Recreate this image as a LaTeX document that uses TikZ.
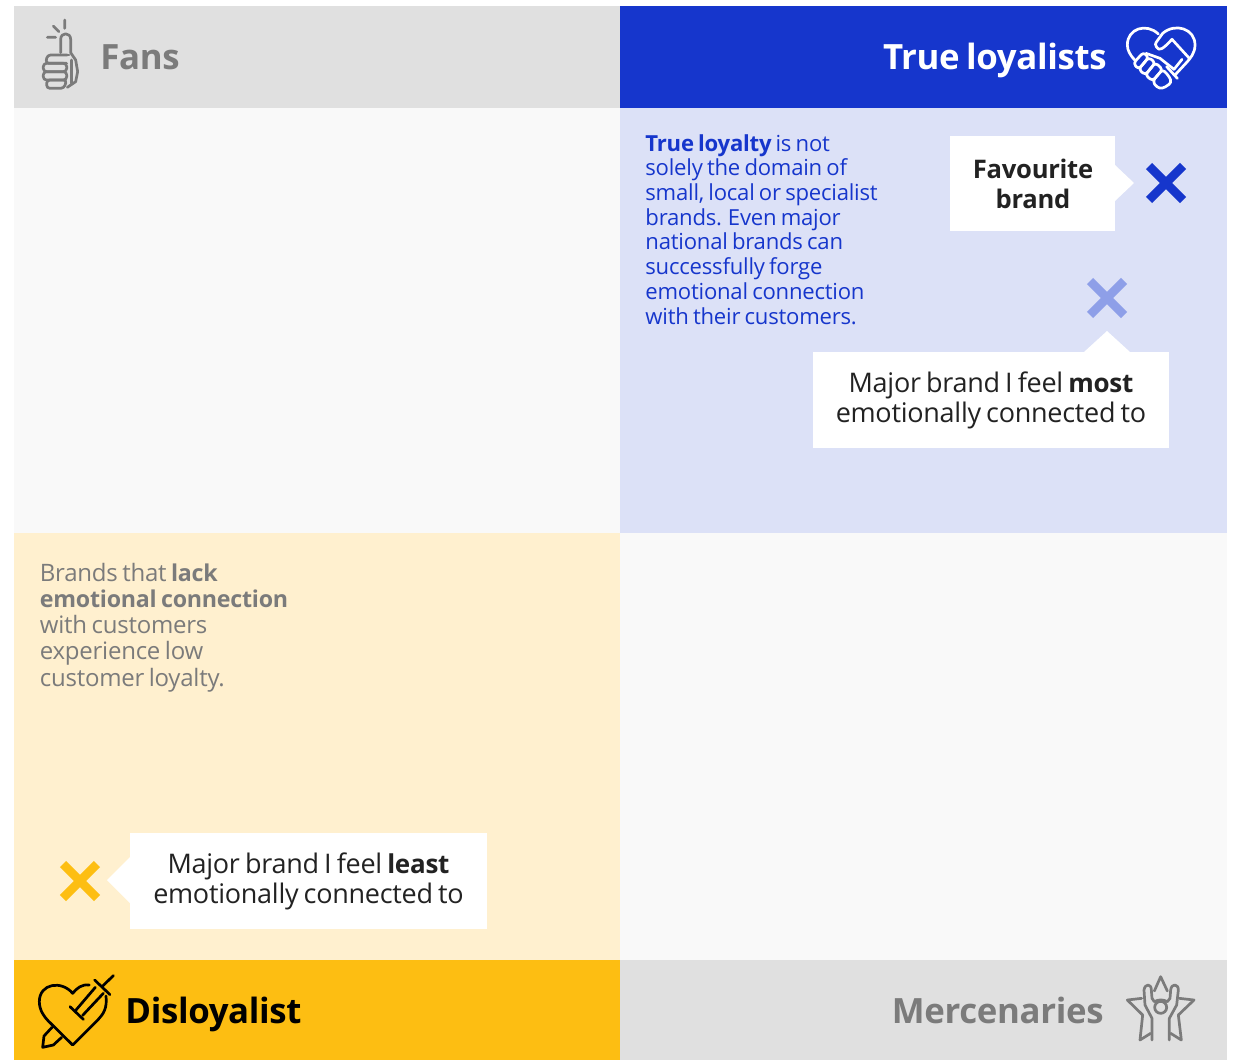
\documentclass[tikz,border=0pt]{standalone}
\usepackage{fontspec}
\setmainfont[LetterSpace=-1,WordSpace=0.75]{Open Sans}
\definecolor{bluemain}{HTML}{1636CC}
\definecolor{bluelight}{HTML}{DCE1F7}
\definecolor{bluemid}{HTML}{8E9FE8}
\definecolor{cream}{HTML}{FFF0CF}
\definecolor{yellowmain}{HTML}{FDBE12}
\definecolor{headgrey}{HTML}{E0E0E0}
\definecolor{offwhite}{HTML}{F9F9F9}
\definecolor{greytext}{HTML}{7B7B7B}
\definecolor{darktext}{HTML}{222222}
\tikzset{
  headtext/.style={font=\fontsize{17.4}{20}\selectfont\bfseries,inner sep=0pt},
  bodytext/.style={align=left,anchor=north west,inner sep=0pt},
  calltext/.style={align=center,inner sep=0pt,text=darktext},
  xmark/.style={line width=4.4pt,line cap=butt},
  icon/.style={line width=1.35pt,line cap=round,line join=round,fill=none},
  finger/.style={icon,rounded corners=1.6pt}
}
\newcommand{\smallbold}[1]{{\fontsize{11.6}{13.05}\selectfont\bfseries #1}}
\newcommand{\callbold}[1]{{\fontsize{13}{15}\selectfont\bfseries #1}}
\begin{document}
\begin{tikzpicture}[x=0.5pt,y=-0.5pt]
\useasboundingbox (0,0) rectangle (1238,1060);
\fill[white] (0,0) rectangle (1238,1060);
% panels
\fill[headgrey] (14,6) rectangle (620,108);
\fill[bluemain] (620,6) rectangle (1227,108);
\fill[offwhite] (14,108) rectangle (620,533);
\fill[bluelight] (620,108) rectangle (1227,533);
\fill[cream] (14,533) rectangle (620,960);
\fill[offwhite] (620,533) rectangle (1227,960);
\fill[yellowmain] (14,960) rectangle (620,1060);
\fill[headgrey] (620,960) rectangle (1227,1060);
% headers
\node[headtext,text=greytext,anchor=base west] (fans) at (100,69) {Fans};
\node[headtext,text=white,anchor=base east] (loyal) at (1107,69) {True loyalists};
\node[headtext,text=black,anchor=base west] (dis) at (125,1023) {Disloyalist};
\node[headtext,text=greytext,anchor=base east] (merc) at (1104,1023) {Mercenaries};
% body text
\node[bodytext,text=bluemain,font=\fontsize{11.05}{12.35}\selectfont] (loyaltext) at (645,134)
 {\textbf{True loyalty} is not\\solely the domain of\\small, local or specialist\\brands. Even major\\national brands can\\successfully forge\\emotional connection\\with their customers.};
\node[bodytext,text=greytext,font=\fontsize{12}{13.05}\selectfont] (distext) at (39.5,563)
 {Brands that \smallbold{lack}\\\smallbold{emotional connection}\\with customers\\experience low\\customer loyalty.};
% callouts
\fill[white] (1115,165) -- (1134,183) -- (1115,201) -- cycle;
\fill[white] (1084,352) -- (1107,331) -- (1130,352) -- cycle;
\fill[white] (130,857) -- (107,880) -- (130,903) -- cycle;
\fill[white] (950,136) rectangle (1115,231);
\fill[white] (813,352) rectangle (1169,448);
\fill[white] (130,833) rectangle (487,929);
\node[calltext,font=\fontsize{12.8}{15}\selectfont\bfseries] (fav) at (1033,184) {Favourite\\brand};
\node[calltext,font=\fontsize{13.5}{15}\selectfont] (most) at (991,400) {Major brand I feel \callbold{most}\\emotionally connected to};
\node[calltext,font=\fontsize{13.5}{15}\selectfont] (least) at (308.5,881) {Major brand I feel \callbold{least}\\emotionally connected to};
% x marks
\draw[xmark,bluemain] (1149,166) -- (1183,200) (1183,166) -- (1149,200);
\draw[xmark,bluemid] (1090,281) -- (1124,315) (1124,281) -- (1090,315);
\draw[xmark,yellowmain] (63,864) -- (97,898) (97,864) -- (63,898);
% Fans icon
\begin{scope}[shift={(14,0)},x=0.16667pt,y=-0.16667pt]
\draw[icon,greytext] (152,60)--(152,85) (118,78)--(135,95) (100,112)--(125,112);
\draw[icon,greytext] (140,158)--(140,118) .. controls (140,96) and (170,96) .. (170,118) -- (170,158) -- (185,180) -- (191,215) -- (185,245) -- (160,262);
\draw[finger,greytext] (160,165) -- (100,165) -- (95,190) -- (158,190);
\draw[finger,greytext] (158,190) -- (88,190) -- (88,215) -- (158,215) -- cycle;
\draw[finger,greytext] (158,215) -- (88,215) -- (88,240) -- (158,240) -- cycle;
\draw[finger,greytext] (158,240) -- (98,240) -- (98,265) -- (150,265) -- cycle;
\draw[icon,greytext] (160,165)--(165,165) (172,180)--(172,250);
\end{scope}
% handshake icon
\begin{scope}[shift={(1100,10)},x=0.16667pt,y=-0.16667pt]
\draw[icon,white] (175,72) .. controls (140,38) and (82,55) .. (82,105) .. controls (82,122) and (92,137) .. (104,150);
\draw[icon,white] (170,112) .. controls (165,108) and (165,100) .. (172,92) -- (188,70) .. controls (225,38) and (285,55) .. (285,105) .. controls (285,130) and (270,145) .. (262,155) -- (225,195);
\draw[icon,white] (170,112) .. controls (178,124) and (188,118) .. (216,88) -- (268,145);
\draw[icon,white] (246,148) -- (222,178) (200,170) -- (232,205);
\draw[finger,white] (100,160) -- (130,127) -- (146,142) -- (116,178) -- cycle;
\draw[finger,white] (116,178) -- (146,142) -- (166,158) -- (136,195) -- cycle;
\draw[finger,white] (136,195) -- (166,158) -- (188,178) -- (158,213) -- cycle;
\draw[finger,white] (158,213) -- (188,178) -- (208,200) -- (215,218) -- (188,236) -- (170,232) -- cycle;
\draw[icon,white] (138,130) -- (180,145) -- (222,178);
\end{scope}
% dagger heart icon
\begin{scope}[shift={(20,960)},x=0.16667pt,y=-0.16667pt]
\draw[icon,black] (208,75) .. controls (185,72) and (170,85) .. (158,100) .. controls (125,60) and (58,70) .. (58,125) .. controls (58,150) and (72,170) .. (85,183) -- (158,255) -- (235,178) .. controls (250,162) and (262,145) .. (258,108);
\draw[icon,black] (150,140) -- (190,178);
\draw[icon,black] (168,150) -- (226,82) (188,166) -- (250,100);
\draw[icon,black] (224,60) -- (270,104);
\draw[icon,black] (248,78) -- (280,47);
\draw[icon,black] (96,202) -- (72,228) -- (68,262) -- (100,255) -- (125,232);
\end{scope}
% mercenaries icon
\begin{scope}[shift={(1110,965)},x=0.16667pt,y=-0.16667pt]
\draw[icon,greytext] (133,78) -- (152,35) -- (172,78);
\draw[icon,greytext] (95,100) -- (52,105) -- (98,150) -- (90,225) -- (122,205);
\draw[icon,greytext] (208,100) -- (252,105) -- (205,150) -- (214,225) -- (182,205);
\draw[icon,greytext] (126,225) -- (126,160) -- (105,120) -- (102,75) .. controls (105,55) and (124,55) .. (124,75) -- (126,100) -- (133,110) .. controls (145,103) and (160,103) .. (172,110) -- (180,100) -- (182,75) .. controls (184,55) and (205,55) .. (205,75) -- (200,120) -- (178,160) -- (178,225);
\draw[icon,greytext] (152,127) circle[radius=18];
\end{scope}
\end{tikzpicture}
\end{document}
